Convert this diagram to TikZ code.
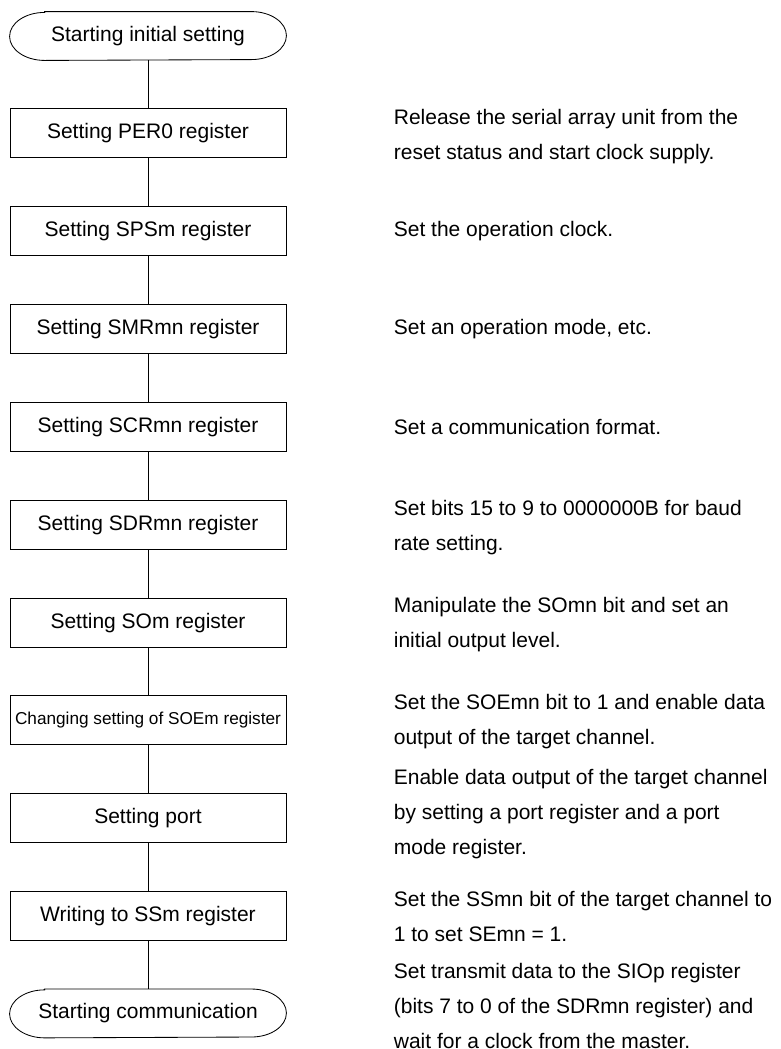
\documentclass[tikz,border=0pt]{standalone}
\usepackage{fontspec}
\setmainfont{Liberation Sans}
\usetikzlibrary{positioning}

\begin{document}
\begin{tikzpicture}[line width=0.6pt, node distance=1.2cm,
    every node/.style={font=\fontsize{14.94pt}{24.9pt}\selectfont},
    stepbox/.style={draw, rectangle, minimum width=6.9cm, minimum height=1.225cm, inner sep=0pt},
    termbox/.style={rectangle, minimum width=6.9cm, minimum height=1.2cm, inner sep=0pt},
    note/.style={align=left, inner sep=0pt}]

\useasboundingbox (0,0) rectangle (19.5,-26.225);

% ---------------------------------------------
% Flujo principal
% ---------------------------------------------
\node[termbox] (start) at (3.7,-0.9) {Starting initial setting};
\node[stepbox, below=of start] (per) {Setting PER0 register};
\node[stepbox, below=of per] (sps) {Setting SPSm register};
\node[stepbox, below=of sps] (smr) {Setting SMRmn register};
\node[stepbox, below=of smr] (scr) {Setting SCRmn register};
\node[stepbox, below=of scr] (sdr) {Setting SDRmn register};
\node[stepbox, below=of sdr] (som) {Setting SOm register};
\node[stepbox, below=of som, font=\fontsize{12.24pt}{14pt}\selectfont] (soe) {Changing setting of SOEm register};
\node[stepbox, below=of soe] (port) {Setting port};
\node[stepbox, below=of port] (ssm) {Writing to SSm register};
\node[termbox, below=of ssm] (comm) {Starting communication};

% Contorno de los terminales
\foreach \t in {start, comm}
    \draw ([xshift=0.875cm]\t.north west) -- ([xshift=-0.875cm]\t.north east)
        arc[start angle=90, end angle=-90, x radius=0.875cm, y radius=0.6cm]
        -- ([xshift=0.875cm]\t.south west)
        arc[start angle=270, end angle=90, x radius=0.875cm, y radius=0.6cm] -- cycle;

% Conectores
\foreach \a/\b in {start/per, per/sps, sps/smr, smr/scr, scr/sdr, sdr/som, som/soe, soe/port, port/ssm, ssm/comm}
    \draw (\a) -- (\b);

% ---------------------------------------------
% Notas a la derecha
% ---------------------------------------------
\node[note, right=2.675cm of per, yshift=-0.08cm] (nper) {Release the serial array unit from the\\reset status and start clock supply.};
\node[note, right=2.675cm of sps] (nsps) {Set the operation clock.};
\node[note, right=2.675cm of smr] (nsmr) {Set an operation mode, etc.};
\node[note, right=2.675cm of scr] (nscr) {Set a communication format.};
\node[note, right=2.675cm of sdr, yshift=-0.075cm] (nsdr) {Set bits 15 to 9 to 0000000B for baud\\rate setting.};
\node[note, right=2.675cm of som, yshift=-0.05cm] (nsom) {Manipulate the SOmn bit and set an\\initial output level.};
\node[note, right=2.675cm of soe, yshift=-0.04cm] (nsoe) {Set the SOEmn bit to 1 and enable data\\output of the target channel.};
\node[note, right=2.675cm of port, yshift=0.1cm] (nport) {Enable data output of the target channel\\by setting a port register and a port\\mode register.};
\node[note, right=2.675cm of ssm] (nssm) {Set the SSmn bit of the target channel to\\1 to set SEmn = 1.};
\node[note, right=2.675cm of comm, yshift=0.19cm] (ncomm) {Set transmit data to the SIOp register\\(bits 7 to 0 of the SDRmn register) and\\wait for a clock from the master.};

\end{tikzpicture}
\end{document}
